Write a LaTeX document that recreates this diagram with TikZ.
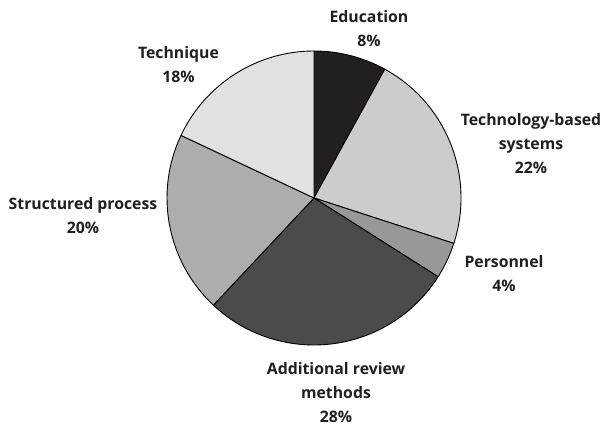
\documentclass[tikz,border=0pt]{standalone}
\usepackage{fontspec}
\setmainfont{Open Sans}
\begin{document}
\begin{tikzpicture}[x=1pt,y=1pt,
  slice/.style={draw=black,line width=0.9pt,line join=round},
  lbl/.style={font=\bfseries\fontsize{15.8}{24}\selectfont,align=center,text=black!88,inner sep=0pt,anchor=base}]
\useasboundingbox (0,0) rectangle (607,425);
\definecolor{cEdu}{HTML}{231F20}
\definecolor{cTech}{HTML}{CBCCCD}
\definecolor{cPers}{HTML}{97989B}
\definecolor{cAdd}{HTML}{4A4B4D}
\definecolor{cStr}{HTML}{ACADB0}
\definecolor{cTq}{HTML}{E0E1E2}
\coordinate (C) at (314,227);
\def\R{147}
\filldraw[slice,fill=cEdu]  (C) -- ++(90:\R) arc (90:61.2:\R) -- cycle;
\filldraw[slice,fill=cTech] (C) -- ++(61.2:\R) arc (61.2:-18:\R) -- cycle;
\filldraw[slice,fill=cPers] (C) -- ++(-18:\R) arc (-18:-32.4:\R) -- cycle;
\filldraw[slice,fill=cAdd]  (C) -- ++(-32.4:\R) arc (-32.4:-133.2:\R) -- cycle;
\filldraw[slice,fill=cStr]  (C) -- ++(-133.2:\R) arc (-133.2:-205.2:\R) -- cycle;
\filldraw[slice,fill=cTq]   (C) -- ++(154.8:\R) arc (154.8:90:\R) -- cycle;
\node[lbl] (edu) at (369,378.3) {Education\\8\%};
\node[lbl] (tq) at (178.5,342) {Technique\\18\%};
\node[lbl] (tech) at (531,251) {Technology-based\\systems\\22\%};
\node[lbl] (str) at (83,191) {Structured process\\20\%};
\node[lbl] (pers) at (504,133) {Personnel\\4\%};
\node[lbl] (add) at (336,2.5) {Additional review\\methods\\28\%};
\end{tikzpicture}
\end{document}
